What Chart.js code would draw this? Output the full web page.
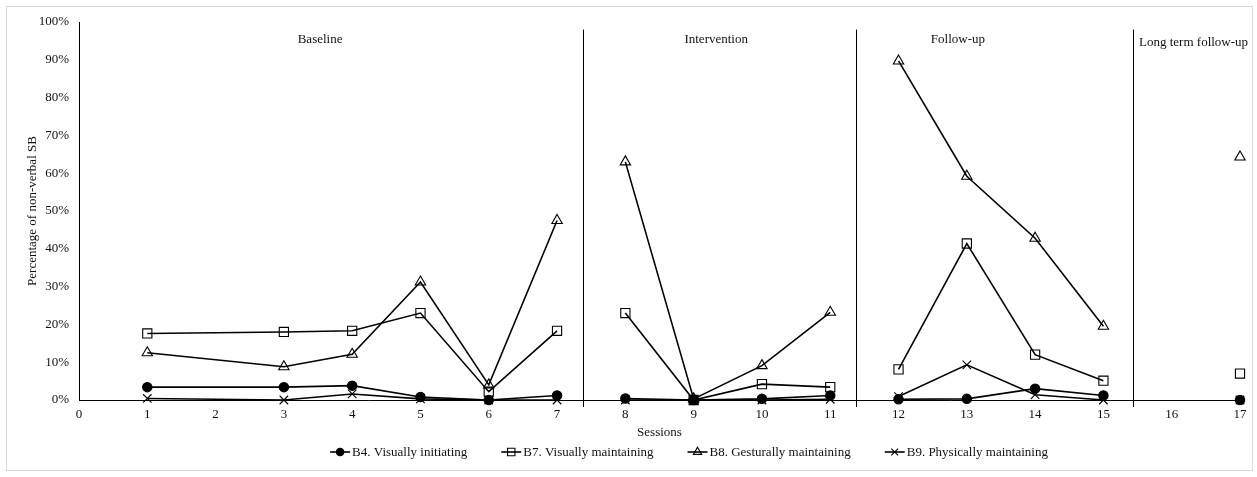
<!DOCTYPE html>
<html><head><meta charset="utf-8">
<script src="https://cdn.jsdelivr.net/npm/chart.js@4"></script>
<style>html,body{margin:0;padding:0;background:#fff}#wrap{width:1257px;height:477px;position:relative}</style>
</head><body><div id="wrap"><canvas id="c" width="1257" height="477"></canvas></div>
<script>
// ---- data ----
const sessions      = [1, 3, 4, 5, 6, 7, 8, 9, 10, 11, 12, 13, 14, 15, 17];
const sessionPhase  = [0, 0, 0, 0, 0, 0, 1, 1, 1, 1, 2, 2, 2, 2, 3];
const phaseNames    = ['Baseline', 'Intervention', 'Follow-up', 'Long term follow-up'];
const phaseLabelAt  = [3.53, 9.33, 12.87, 16.32];
const phaseChangeAt = [7.38, 11.38, 15.43];
const b4Values = [3.4, 3.4, 3.8, 0.8, 0.0, 1.2, 0.4, 0.0, 0.3, 1.2, 0.2, 0.3, 3.0, 1.2, 0.0];
const b7Values = [17.6, 18.0, 18.3, 23.0, 2.2, 18.3, 23.0, 0.0, 4.2, 3.4, 8.1, 41.4, 12.0, 5.1, 7.0];
const b8Values = [12.5, 8.8, 12.1, 31.2, 4.0, 47.5, 63.0, 0.3, 9.1, 23.2, 89.7, 59.2, 42.8, 19.5, 64.3];
const b9Values = [0.4, 0.0, 1.6, 0.3, 0.0, 0.0, 0.0, 0.0, 0.0, 0.2, 0.9, 9.3, 1.4, 0.0, 0.0];
const seriesNames = ['B4. Visually initiating', 'B7. Visually maintaining', 'B8. Gesturally maintaining', 'B9. Physically maintaining'];
const xTickValues = [0,1,2,3,4,5,6,7,8,9,10,11,12,13,14,15,16,17];
const yTickValues = [0,10,20,30,40,50,60,70,80,90,100];
const yAxisTitle = 'Percentage of non-verbal SB';
const xAxisTitle = 'Sessions';

// ---- build ----
const FONT = 'Liberation Serif, Times New Roman, serif';
const INK = '#111';
function buildSeries(vals) {
  const out = [];
  for (let i = 0; i < sessions.length; i++) {
    if (i > 0 && sessionPhase[i] !== sessionPhase[i - 1]) {
      out.push({ x: (sessions[i] + sessions[i - 1]) / 2, y: null });
    }
    out.push({ x: sessions[i], y: vals[i] });
  }
  return out;
}
const styles = [
  { pointStyle: 'circle', radius: 4.7, fill: '#000' },
  { pointStyle: 'rect', radius: 6.5, fill: 'rgba(0,0,0,0)' },
  { pointStyle: 'triangle', radius: 6, fill: 'rgba(0,0,0,0)' },
  { pointStyle: 'crossRot', radius: 6, fill: 'rgba(0,0,0,0)' }
];
const allVals = [b4Values, b7Values, b8Values, b9Values];
const datasets = allVals.map((v, i) => ({
  label: seriesNames[i],
  data: buildSeries(v),
  borderColor: '#000',
  borderWidth: 1.6,
  pointStyle: styles[i].pointStyle,
  pointRadius: styles[i].radius,
  pointHoverRadius: styles[i].radius,
  pointBackgroundColor: styles[i].fill,
  pointBorderColor: '#000',
  pointBorderWidth: 1.1,
  spanGaps: false,
  tension: 0,
  clip: false,
  order: 4 - i
}));

function drawMarker(ctx, style, r, x, y) {
  ctx.save();
  ctx.strokeStyle = '#000'; ctx.lineWidth = 1.1; ctx.fillStyle = style.fill;
  ctx.beginPath();
  if (style.pointStyle === 'circle') {
    ctx.arc(x, y, r, 0, Math.PI * 2); ctx.fill(); ctx.stroke();
  } else if (style.pointStyle === 'rect') {
    const s = r * Math.SQRT1_2; ctx.rect(x - s, y - s, 2 * s, 2 * s); ctx.stroke();
  } else if (style.pointStyle === 'triangle') {
    for (let k = 0; k < 3; k++) {
      const a = k * 2 * Math.PI / 3;
      const px = x + Math.sin(a) * r, py = y - Math.cos(a) * r;
      if (k === 0) ctx.moveTo(px, py); else ctx.lineTo(px, py);
    }
    ctx.closePath(); ctx.stroke();
  } else {
    const s = r * Math.SQRT1_2;
    ctx.moveTo(x - s, y - s); ctx.lineTo(x + s, y + s);
    ctx.moveTo(x + s, y - s); ctx.lineTo(x - s, y + s); ctx.stroke();
  }
  ctx.restore();
}

const decor = {
  id: 'decor',
  beforeDraw(chart) {
    const ctx = chart.ctx;
    ctx.save();
    ctx.fillStyle = '#fff'; ctx.fillRect(0, 0, chart.width, chart.height);
    ctx.strokeStyle = '#d9d9d9'; ctx.lineWidth = 1;
    ctx.strokeRect(6.5, 6.5, 1246, 464);
    ctx.restore();
  },
  beforeDatasetsDraw(chart) {
    const ctx = chart.ctx, xs = chart.scales.x, ys = chart.scales.y;
    ctx.save();
    ctx.strokeStyle = '#000'; ctx.lineWidth = 1;
    phaseChangeAt.forEach(v => {
      const px = Math.round(xs.getPixelForValue(v)) + 0.5;
      ctx.beginPath();
      ctx.moveTo(px, ys.getPixelForValue(98));
      ctx.lineTo(px, ys.bottom + 7);
      ctx.stroke();
    });
    ctx.fillStyle = INK; ctx.font = '13px ' + FONT;
    ctx.textAlign = 'center'; ctx.textBaseline = 'middle';
    phaseNames.forEach((n, i) => {
      ctx.fillText(n, xs.getPixelForValue(phaseLabelAt[i]), i === 3 ? 43 : 40);
    });
    ctx.restore();
  },
  afterDraw(chart) {
    const ctx = chart.ctx;
    ctx.save();
    ctx.font = '13px ' + FONT;
    const symW = 20, gapT = 2, gapI = 34, y = 452;
    const widths = seriesNames.map(n => ctx.measureText(n).width);
    const total = widths.reduce((a, w) => a + symW + gapT + w, 0) + gapI * (seriesNames.length - 1);
    let x = 689 - total / 2;
    seriesNames.forEach((n, i) => {
      ctx.strokeStyle = '#000'; ctx.lineWidth = 1.6;
      ctx.beginPath(); ctx.moveTo(x, y); ctx.lineTo(x + symW, y); ctx.stroke();
      drawMarker(ctx, styles[i], styles[i].radius * 0.8, x + symW / 2, y);
      ctx.fillStyle = INK; ctx.textAlign = 'left'; ctx.textBaseline = 'middle';
      ctx.fillText(n, x + symW + gapT, y + 1);
      x += symW + gapT + widths[i] + gapI;
    });
    ctx.restore();
  }
};

new Chart(document.getElementById('c'), {
  type: 'line',
  data: { datasets },
  plugins: [decor],
  options: {
    responsive: false,
    animation: false,
    devicePixelRatio: 1,
    layout: { padding: { left: 0, right: 17, top: 22, bottom: 37 } },
    plugins: { legend: { display: false }, tooltip: { enabled: false } },
    scales: {
      x: {
        type: 'linear', min: 0, max: 17,
        afterBuildTicks: s => { s.ticks = xTickValues.map(v => ({ value: v })); },
        afterFit: s => { s.height = 40; },
        grid: { display: false, drawTicks: false },
        border: { display: true, color: '#000', width: 1 },
        ticks: { font: { family: FONT, size: 13 }, color: INK, padding: 7, autoSkip: false, maxRotation: 0 },
        title: { display: true, text: xAxisTitle, font: { family: FONT, size: 13 }, color: INK, padding: { top: 1, bottom: 0 } }
      },
      y: {
        type: 'linear', min: 0, max: 100,
        afterBuildTicks: s => { s.ticks = yTickValues.map(v => ({ value: v })); },
        afterFit: s => { s.width = 79; },
        grid: { display: false, drawTicks: false },
        border: { display: true, color: '#000', width: 1 },
        ticks: { font: { family: FONT, size: 13 }, color: INK, padding: 10, callback: v => v + '%' },
        title: { display: true, text: yAxisTitle, font: { family: FONT, size: 13 }, color: INK, padding: { top: 25, bottom: 0 } }
      }
    }
  }
});
</script></body></html>
